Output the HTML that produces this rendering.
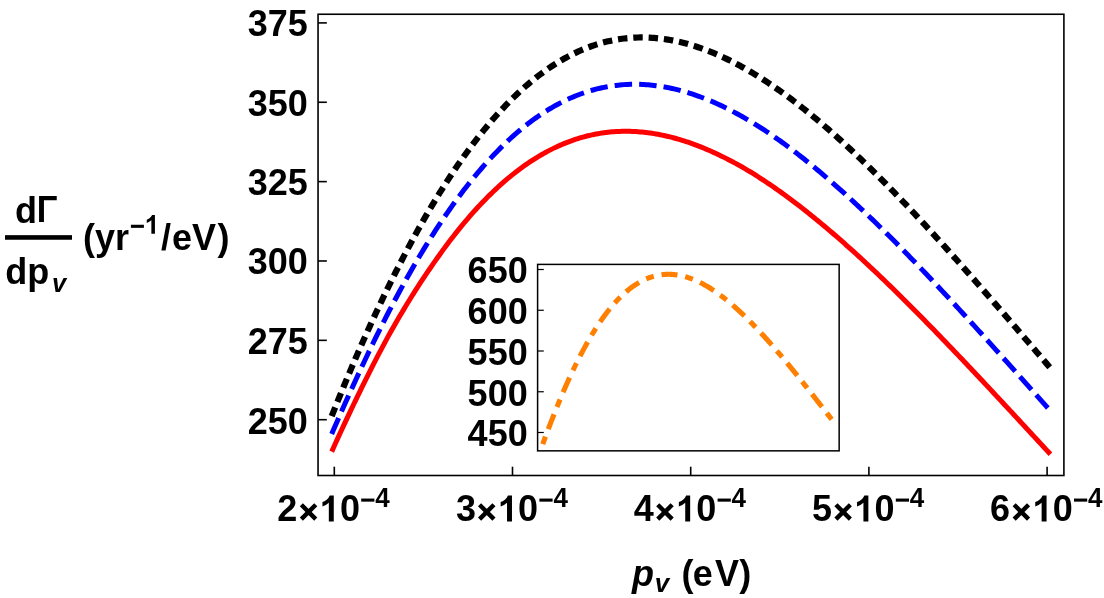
<!DOCTYPE html><html><head><meta charset="utf-8"><title>plot</title><style>
html,body{margin:0;padding:0;background:#fff}svg{display:block;will-change:transform}text{font-family:"Liberation Sans",sans-serif;font-weight:bold;fill:#000}
</style></head><body>
<svg width="1104" height="598" viewBox="0 0 1104 598">
<rect x="0" y="0" width="1104" height="598" fill="#fff"/>
<path d="M331.70,451.60 L333.70,447.17 L335.70,442.77 L337.71,438.40 L339.71,434.04 L341.71,429.72 L343.71,425.41 L345.71,421.13 L347.72,416.87 L349.72,412.64 L351.72,408.43 L353.72,404.24 L355.72,400.07 L357.73,395.92 L359.73,391.80 L361.73,387.70 L363.73,383.62 L365.73,379.57 L367.74,375.55 L369.74,371.56 L371.74,367.60 L373.74,363.68 L375.74,359.78 L377.74,355.92 L379.75,352.09 L381.75,348.31 L383.75,344.55 L385.75,340.84 L387.75,337.17 L389.76,333.55 L391.76,329.98 L393.76,326.44 L395.76,322.95 L397.76,319.50 L399.77,316.09 L401.77,312.71 L403.77,309.37 L405.77,306.06 L407.77,302.78 L409.78,299.52 L411.78,296.29 L413.78,293.09 L415.78,289.93 L417.78,286.80 L419.79,283.71 L421.79,280.65 L423.79,277.62 L425.79,274.63 L427.79,271.66 L429.80,268.72 L431.80,265.81 L433.80,262.93 L435.80,260.07 L437.80,257.24 L439.81,254.43 L441.81,251.65 L443.81,248.90 L445.81,246.19 L447.81,243.50 L449.82,240.86 L451.82,238.24 L453.82,235.66 L455.82,233.11 L457.82,230.60 L459.82,228.11 L461.83,225.67 L463.83,223.25 L465.83,220.87 L467.83,218.52 L469.83,216.21 L471.84,213.93 L473.84,211.68 L475.84,209.46 L477.84,207.28 L479.84,205.13 L481.85,203.02 L483.85,200.93 L485.85,198.88 L487.85,196.86 L489.85,194.88 L491.86,192.93 L493.86,191.01 L495.86,189.12 L497.86,187.26 L499.86,185.44 L501.87,183.65 L503.87,181.89 L505.87,180.17 L507.87,178.47 L509.87,176.81 L511.88,175.18 L513.88,173.58 L515.88,172.01 L517.88,170.48 L519.88,168.97 L521.89,167.50 L523.89,166.06 L525.89,164.65 L527.89,163.27 L529.89,161.92 L531.89,160.61 L533.90,159.32 L535.90,158.06 L537.90,156.84 L539.90,155.64 L541.90,154.48 L543.91,153.35 L545.91,152.24 L547.91,151.17 L549.91,150.12 L551.91,149.11 L553.92,148.12 L555.92,147.17 L557.92,146.24 L559.92,145.35 L561.92,144.48 L563.93,143.64 L565.93,142.83 L567.93,142.05 L569.93,141.30 L571.93,140.57 L573.94,139.88 L575.94,139.21 L577.94,138.57 L579.94,137.96 L581.94,137.37 L583.95,136.82 L585.95,136.29 L587.95,135.79 L589.95,135.31 L591.95,134.87 L593.96,134.45 L595.96,134.05 L597.96,133.69 L599.96,133.35 L601.96,133.03 L603.97,132.75 L605.97,132.49 L607.97,132.25 L609.97,132.04 L611.97,131.86 L613.97,131.70 L615.98,131.57 L617.98,131.46 L619.98,131.38 L621.98,131.32 L623.98,131.28 L625.99,131.28 L627.99,131.29 L629.99,131.33 L631.99,131.40 L633.99,131.48 L636.00,131.60 L638.00,131.73 L640.00,131.89 L642.00,132.07 L644.00,132.28 L646.01,132.51 L648.01,132.75 L650.01,133.03 L652.01,133.32 L654.01,133.63 L656.02,133.97 L658.02,134.33 L660.02,134.71 L662.02,135.11 L664.02,135.54 L666.03,135.98 L668.03,136.44 L670.03,136.93 L672.03,137.44 L674.03,137.96 L676.04,138.51 L678.04,139.08 L680.04,139.67 L682.04,140.28 L684.04,140.90 L686.05,141.55 L688.05,142.22 L690.05,142.91 L692.05,143.62 L694.05,144.34 L696.05,145.09 L698.06,145.85 L700.06,146.64 L702.06,147.44 L704.06,148.26 L706.06,149.09 L708.07,149.95 L710.07,150.82 L712.07,151.70 L714.07,152.61 L716.07,153.53 L718.08,154.47 L720.08,155.42 L722.08,156.39 L724.08,157.38 L726.08,158.39 L728.09,159.41 L730.09,160.45 L732.09,161.51 L734.09,162.58 L736.09,163.67 L738.10,164.77 L740.10,165.90 L742.10,167.04 L744.10,168.19 L746.10,169.36 L748.11,170.55 L750.11,171.76 L752.11,172.98 L754.11,174.22 L756.11,175.47 L758.12,176.74 L760.12,178.03 L762.12,179.33 L764.12,180.65 L766.12,181.98 L768.13,183.32 L770.13,184.68 L772.13,186.05 L774.13,187.43 L776.13,188.83 L778.13,190.24 L780.14,191.66 L782.14,193.10 L784.14,194.55 L786.14,196.01 L788.14,197.48 L790.15,198.97 L792.15,200.47 L794.15,201.98 L796.15,203.50 L798.15,205.03 L800.16,206.58 L802.16,208.14 L804.16,209.70 L806.16,211.28 L808.16,212.87 L810.17,214.47 L812.17,216.09 L814.17,217.71 L816.17,219.34 L818.17,220.98 L820.18,222.64 L822.18,224.30 L824.18,225.98 L826.18,227.66 L828.18,229.35 L830.19,231.06 L832.19,232.77 L834.19,234.49 L836.19,236.22 L838.19,237.96 L840.20,239.71 L842.20,241.47 L844.20,243.23 L846.20,245.01 L848.20,246.79 L850.21,248.59 L852.21,250.39 L854.21,252.20 L856.21,254.01 L858.21,255.84 L860.21,257.68 L862.22,259.52 L864.22,261.37 L866.22,263.23 L868.22,265.10 L870.22,266.98 L872.23,268.86 L874.23,270.75 L876.23,272.65 L878.23,274.55 L880.23,276.47 L882.24,278.38 L884.24,280.31 L886.24,282.24 L888.24,284.18 L890.24,286.13 L892.25,288.08 L894.25,290.04 L896.25,292.01 L898.25,293.98 L900.25,295.96 L902.26,297.94 L904.26,299.93 L906.26,301.92 L908.26,303.92 L910.26,305.93 L912.27,307.94 L914.27,309.95 L916.27,311.97 L918.27,314.00 L920.27,316.03 L922.28,318.06 L924.28,320.10 L926.28,322.15 L928.28,324.20 L930.28,326.25 L932.28,328.31 L934.29,330.37 L936.29,332.43 L938.29,334.50 L940.29,336.57 L942.29,338.65 L944.30,340.73 L946.30,342.81 L948.30,344.90 L950.30,346.99 L952.30,349.08 L954.31,351.18 L956.31,353.28 L958.31,355.38 L960.31,357.48 L962.31,359.59 L964.32,361.70 L966.32,363.81 L968.32,365.93 L970.32,368.05 L972.32,370.17 L974.33,372.30 L976.33,374.43 L978.33,376.56 L980.33,378.69 L982.33,380.83 L984.34,382.97 L986.34,385.11 L988.34,387.25 L990.34,389.39 L992.34,391.54 L994.35,393.68 L996.35,395.83 L998.35,397.98 L1000.35,400.14 L1002.35,402.29 L1004.36,404.44 L1006.36,406.60 L1008.36,408.76 L1010.36,410.91 L1012.36,413.07 L1014.36,415.23 L1016.37,417.39 L1018.37,419.55 L1020.37,421.72 L1022.37,423.88 L1024.37,426.04 L1026.38,428.21 L1028.38,430.38 L1030.38,432.54 L1032.38,434.71 L1034.38,436.87 L1036.39,439.04 L1038.39,441.21 L1040.39,443.38 L1042.39,445.54 L1044.39,447.71 L1046.40,449.88 L1048.40,452.05 L1050.40,454.22" fill="none" stroke="#ff0000" stroke-width="5.0"/>
<path d="M331.70,433.97 L333.70,429.33 L335.70,424.71 L337.71,420.13 L339.71,415.57 L341.71,411.04 L343.71,406.54 L345.71,402.06 L347.72,397.60 L349.72,393.17 L351.72,388.76 L353.72,384.37 L355.72,380.00 L357.73,375.64 L359.73,371.31 L361.73,367.00 L363.73,362.72 L365.73,358.46 L367.74,354.24 L369.74,350.05 L371.74,345.90 L373.74,341.77 L375.74,337.67 L377.74,333.61 L379.75,329.57 L381.75,325.57 L383.75,321.60 L385.75,317.67 L387.75,313.76 L389.76,309.89 L391.76,306.05 L393.76,302.24 L395.76,298.47 L397.76,294.73 L399.77,291.02 L401.77,287.34 L403.77,283.70 L405.77,280.09 L407.77,276.51 L409.78,272.97 L411.78,269.46 L413.78,265.99 L415.78,262.54 L417.78,259.13 L419.79,255.76 L421.79,252.42 L423.79,249.11 L425.79,245.84 L427.79,242.60 L429.80,239.39 L431.80,236.22 L433.80,233.08 L435.80,229.98 L437.80,226.91 L439.81,223.87 L441.81,220.87 L443.81,217.90 L445.81,214.97 L447.81,212.07 L449.82,209.20 L451.82,206.37 L453.82,203.57 L455.82,200.81 L457.82,198.08 L459.82,195.39 L461.83,192.73 L463.83,190.10 L465.83,187.51 L467.83,184.95 L469.83,182.42 L471.84,179.93 L473.84,177.48 L475.84,175.06 L477.84,172.67 L479.84,170.31 L481.85,167.99 L483.85,165.70 L485.85,163.45 L487.85,161.23 L489.85,159.04 L491.86,156.89 L493.86,154.77 L495.86,152.69 L497.86,150.64 L499.86,148.62 L501.87,146.63 L503.87,144.68 L505.87,142.76 L507.87,140.87 L509.87,139.02 L511.88,137.20 L513.88,135.41 L515.88,133.66 L517.88,131.94 L519.88,130.25 L521.89,128.59 L523.89,126.97 L525.89,125.37 L527.89,123.81 L529.89,122.29 L531.89,120.79 L533.90,119.33 L535.90,117.90 L537.90,116.50 L539.90,115.13 L541.90,113.79 L543.91,112.48 L545.91,111.21 L547.91,109.97 L549.91,108.76 L551.91,107.57 L553.92,106.42 L555.92,105.30 L557.92,104.22 L559.92,103.16 L561.92,102.13 L563.93,101.13 L565.93,100.16 L567.93,99.23 L569.93,98.32 L571.93,97.44 L573.94,96.59 L575.94,95.78 L577.94,94.99 L579.94,94.23 L581.94,93.50 L583.95,92.79 L585.95,92.12 L587.95,91.48 L589.95,90.86 L591.95,90.27 L593.96,89.72 L595.96,89.18 L597.96,88.68 L599.96,88.21 L601.96,87.76 L603.97,87.34 L605.97,86.95 L607.97,86.58 L609.97,86.25 L611.97,85.94 L613.97,85.65 L615.98,85.40 L617.98,85.17 L619.98,84.96 L621.98,84.78 L623.98,84.63 L625.99,84.51 L627.99,84.41 L629.99,84.34 L631.99,84.29 L633.99,84.26 L636.00,84.27 L638.00,84.29 L640.00,84.35 L642.00,84.42 L644.00,84.53 L646.01,84.65 L648.01,84.80 L650.01,84.98 L652.01,85.18 L654.01,85.40 L656.02,85.65 L658.02,85.92 L660.02,86.21 L662.02,86.53 L664.02,86.87 L666.03,87.23 L668.03,87.62 L670.03,88.02 L672.03,88.45 L674.03,88.91 L676.04,89.38 L678.04,89.88 L680.04,90.40 L682.04,90.94 L684.04,91.50 L686.05,92.08 L688.05,92.69 L690.05,93.31 L692.05,93.96 L694.05,94.63 L696.05,95.32 L698.06,96.02 L700.06,96.75 L702.06,97.50 L704.06,98.27 L706.06,99.06 L708.07,99.87 L710.07,100.70 L712.07,101.55 L714.07,102.41 L716.07,103.30 L718.08,104.21 L720.08,105.13 L722.08,106.08 L724.08,107.04 L726.08,108.02 L728.09,109.02 L730.09,110.04 L732.09,111.07 L734.09,112.12 L736.09,113.19 L738.10,114.28 L740.10,115.39 L742.10,116.51 L744.10,117.65 L746.10,118.81 L748.11,119.98 L750.11,121.17 L752.11,122.37 L754.11,123.60 L756.11,124.83 L758.12,126.09 L760.12,127.36 L762.12,128.64 L764.12,129.94 L766.12,131.26 L768.13,132.59 L770.13,133.94 L772.13,135.31 L774.13,136.68 L776.13,138.08 L778.13,139.49 L780.14,140.91 L782.14,142.35 L784.14,143.80 L786.14,145.27 L788.14,146.75 L790.15,148.25 L792.15,149.75 L794.15,151.28 L796.15,152.81 L798.15,154.36 L800.16,155.92 L802.16,157.49 L804.16,159.08 L806.16,160.68 L808.16,162.29 L810.17,163.91 L812.17,165.55 L814.17,167.19 L816.17,168.85 L818.17,170.52 L820.18,172.20 L822.18,173.90 L824.18,175.60 L826.18,177.31 L828.18,179.04 L830.19,180.77 L832.19,182.52 L834.19,184.27 L836.19,186.04 L838.19,187.81 L840.20,189.60 L842.20,191.39 L844.20,193.19 L846.20,195.01 L848.20,196.83 L850.21,198.66 L852.21,200.50 L854.21,202.35 L856.21,204.21 L858.21,206.08 L860.21,207.96 L862.22,209.84 L864.22,211.73 L866.22,213.64 L868.22,215.55 L870.22,217.47 L872.23,219.39 L874.23,221.33 L876.23,223.27 L878.23,225.22 L880.23,227.18 L882.24,229.14 L884.24,231.12 L886.24,233.10 L888.24,235.08 L890.24,237.08 L892.25,239.08 L894.25,241.09 L896.25,243.10 L898.25,245.12 L900.25,247.15 L902.26,249.19 L904.26,251.23 L906.26,253.28 L908.26,255.33 L910.26,257.39 L912.27,259.45 L914.27,261.53 L916.27,263.60 L918.27,265.69 L920.27,267.78 L922.28,269.87 L924.28,271.97 L926.28,274.08 L928.28,276.19 L930.28,278.30 L932.28,280.42 L934.29,282.55 L936.29,284.68 L938.29,286.81 L940.29,288.95 L942.29,291.10 L944.30,293.25 L946.30,295.40 L948.30,297.56 L950.30,299.72 L952.30,301.88 L954.31,304.05 L956.31,306.22 L958.31,308.40 L960.31,310.58 L962.31,312.76 L964.32,314.95 L966.32,317.14 L968.32,319.33 L970.32,321.53 L972.32,323.73 L974.33,325.93 L976.33,328.13 L978.33,330.34 L980.33,332.55 L982.33,334.76 L984.34,336.97 L986.34,339.19 L988.34,341.41 L990.34,343.63 L992.34,345.85 L994.35,348.07 L996.35,350.30 L998.35,352.52 L1000.35,354.75 L1002.35,356.98 L1004.36,359.21 L1006.36,361.45 L1008.36,363.68 L1010.36,365.92 L1012.36,368.15 L1014.36,370.39 L1016.37,372.63 L1018.37,374.87 L1020.37,377.12 L1022.37,379.36 L1024.37,381.60 L1026.38,383.85 L1028.38,386.09 L1030.38,388.34 L1032.38,390.58 L1034.38,392.83 L1036.39,395.07 L1038.39,397.32 L1040.39,399.57 L1042.39,401.82 L1044.39,404.07 L1046.40,406.31 L1048.40,408.56 L1050.40,410.81" fill="none" stroke="#0000ff" stroke-width="5.0" stroke-dasharray="17.5 7.049"/>
<path d="M331.70,416.07 L333.70,411.07 L335.70,406.09 L337.71,401.15 L339.71,396.23 L341.71,391.34 L343.71,386.48 L345.71,381.65 L347.72,376.85 L349.72,372.09 L351.72,367.36 L353.72,362.66 L355.72,358.00 L357.73,353.37 L359.73,348.78 L361.73,344.23 L363.73,339.72 L365.73,335.25 L367.74,330.81 L369.74,326.40 L371.74,322.02 L373.74,317.68 L375.74,313.36 L377.74,309.08 L379.75,304.83 L381.75,300.61 L383.75,296.42 L385.75,292.27 L387.75,288.15 L389.76,284.06 L391.76,280.00 L393.76,275.98 L395.76,271.99 L397.76,268.03 L399.77,264.10 L401.77,260.21 L403.77,256.36 L405.77,252.53 L407.77,248.74 L409.78,244.98 L411.78,241.26 L413.78,237.57 L415.78,233.92 L417.78,230.30 L419.79,226.71 L421.79,223.16 L423.79,219.64 L425.79,216.16 L427.79,212.71 L429.80,209.29 L431.80,205.91 L433.80,202.56 L435.80,199.25 L437.80,195.97 L439.81,192.73 L441.81,189.52 L443.81,186.35 L445.81,183.21 L447.81,180.10 L449.82,177.03 L451.82,174.00 L453.82,171.00 L455.82,168.03 L457.82,165.10 L459.82,162.21 L461.83,159.34 L463.83,156.52 L465.83,153.73 L467.83,150.97 L469.83,148.25 L471.84,145.56 L473.84,142.91 L475.84,140.29 L477.84,137.71 L479.84,135.16 L481.85,132.64 L483.85,130.17 L485.85,127.72 L487.85,125.31 L489.85,122.94 L491.86,120.60 L493.86,118.29 L495.86,116.02 L497.86,113.78 L499.86,111.58 L501.87,109.41 L503.87,107.27 L505.87,105.17 L507.87,103.11 L509.87,101.08 L511.88,99.08 L513.88,97.11 L515.88,95.18 L517.88,93.29 L519.88,91.42 L521.89,89.59 L523.89,87.80 L525.89,86.04 L527.89,84.31 L529.89,82.61 L531.89,80.95 L533.90,79.32 L535.90,77.73 L537.90,76.16 L539.90,74.63 L541.90,73.14 L543.91,71.67 L545.91,70.24 L547.91,68.84 L549.91,67.47 L551.91,66.14 L553.92,64.84 L555.92,63.57 L557.92,62.33 L559.92,61.12 L561.92,59.95 L563.93,58.81 L565.93,57.69 L567.93,56.61 L569.93,55.56 L571.93,54.54 L573.94,53.55 L575.94,52.60 L577.94,51.67 L579.94,50.77 L581.94,49.91 L583.95,49.07 L585.95,48.26 L587.95,47.49 L589.95,46.74 L591.95,46.03 L593.96,45.34 L595.96,44.68 L597.96,44.06 L599.96,43.46 L601.96,42.89 L603.97,42.35 L605.97,41.84 L607.97,41.36 L609.97,40.90 L611.97,40.48 L613.97,40.08 L615.98,39.71 L617.98,39.38 L619.98,39.06 L621.98,38.78 L623.98,38.53 L625.99,38.30 L627.99,38.10 L629.99,37.92 L631.99,37.78 L633.99,37.66 L636.00,37.57 L638.00,37.51 L640.00,37.47 L642.00,37.46 L644.00,37.47 L646.01,37.52 L648.01,37.58 L650.01,37.68 L652.01,37.79 L654.01,37.94 L656.02,38.11 L658.02,38.30 L660.02,38.52 L662.02,38.76 L664.02,39.03 L666.03,39.33 L668.03,39.64 L670.03,39.98 L672.03,40.35 L674.03,40.74 L676.04,41.15 L678.04,41.59 L680.04,42.04 L682.04,42.53 L684.04,43.03 L686.05,43.56 L688.05,44.11 L690.05,44.68 L692.05,45.28 L694.05,45.89 L696.05,46.53 L698.06,47.19 L700.06,47.88 L702.06,48.58 L704.06,49.31 L706.06,50.05 L708.07,50.82 L710.07,51.61 L712.07,52.42 L714.07,53.24 L716.07,54.09 L718.08,54.96 L720.08,55.85 L722.08,56.76 L724.08,57.69 L726.08,58.64 L728.09,59.61 L730.09,60.59 L732.09,61.60 L734.09,62.62 L736.09,63.67 L738.10,64.73 L740.10,65.81 L742.10,66.91 L744.10,68.02 L746.10,69.16 L748.11,70.31 L750.11,71.48 L752.11,72.67 L754.11,73.87 L756.11,75.09 L758.12,76.33 L760.12,77.58 L762.12,78.86 L764.12,80.15 L766.12,81.45 L768.13,82.77 L770.13,84.11 L772.13,85.46 L774.13,86.83 L776.13,88.21 L778.13,89.61 L780.14,91.03 L782.14,92.46 L784.14,93.91 L786.14,95.37 L788.14,96.84 L790.15,98.33 L792.15,99.83 L794.15,101.35 L796.15,102.89 L798.15,104.43 L800.16,105.99 L802.16,107.57 L804.16,109.15 L806.16,110.76 L808.16,112.37 L810.17,114.00 L812.17,115.64 L814.17,117.29 L816.17,118.96 L818.17,120.64 L820.18,122.33 L822.18,124.03 L824.18,125.75 L826.18,127.48 L828.18,129.21 L830.19,130.97 L832.19,132.73 L834.19,134.50 L836.19,136.29 L838.19,138.09 L840.20,139.90 L842.20,141.71 L844.20,143.54 L846.20,145.39 L848.20,147.24 L850.21,149.10 L852.21,150.97 L854.21,152.85 L856.21,154.75 L858.21,156.65 L860.21,158.56 L862.22,160.48 L864.22,162.41 L866.22,164.35 L868.22,166.30 L870.22,168.26 L872.23,170.23 L874.23,172.21 L876.23,174.20 L878.23,176.19 L880.23,178.20 L882.24,180.21 L884.24,182.23 L886.24,184.26 L888.24,186.30 L890.24,188.35 L892.25,190.40 L894.25,192.46 L896.25,194.53 L898.25,196.61 L900.25,198.69 L902.26,200.78 L904.26,202.88 L906.26,204.99 L908.26,207.10 L910.26,209.22 L912.27,211.34 L914.27,213.47 L916.27,215.61 L918.27,217.76 L920.27,219.91 L922.28,222.07 L924.28,224.23 L926.28,226.40 L928.28,228.57 L930.28,230.75 L932.28,232.94 L934.29,235.13 L936.29,237.33 L938.29,239.53 L940.29,241.74 L942.29,243.95 L944.30,246.16 L946.30,248.39 L948.30,250.61 L950.30,252.84 L952.30,255.08 L954.31,257.32 L956.31,259.56 L958.31,261.81 L960.31,264.06 L962.31,266.31 L964.32,268.57 L966.32,270.84 L968.32,273.10 L970.32,275.37 L972.32,277.65 L974.33,279.92 L976.33,282.20 L978.33,284.48 L980.33,286.77 L982.33,289.06 L984.34,291.35 L986.34,293.65 L988.34,295.94 L990.34,298.24 L992.34,300.54 L994.35,302.85 L996.35,305.15 L998.35,307.46 L1000.35,309.77 L1002.35,312.08 L1004.36,314.40 L1006.36,316.72 L1008.36,319.04 L1010.36,321.36 L1012.36,323.68 L1014.36,326.00 L1016.37,328.33 L1018.37,330.66 L1020.37,332.99 L1022.37,335.32 L1024.37,337.65 L1026.38,339.98 L1028.38,342.32 L1030.38,344.65 L1032.38,346.99 L1034.38,349.33 L1036.39,351.67 L1038.39,354.01 L1040.39,356.35 L1042.39,358.69 L1044.39,361.03 L1046.40,363.37 L1048.40,365.72 L1050.40,368.06" fill="none" stroke="#000" stroke-width="6.2" stroke-dasharray="9.45 5.884"/>
<rect x="318.05" y="14.25" width="745.85" height="461.25" fill="none" stroke="#000" stroke-width="1.6"/>
<line x1="318.05" y1="22.90" x2="326.85" y2="22.90" stroke="#000" stroke-width="1.6"/>
<text x="307.9" y="36" font-size="36" text-anchor="end">375</text>
<line x1="318.05" y1="102.26" x2="326.85" y2="102.26" stroke="#000" stroke-width="1.6"/>
<text x="307.9" y="116" font-size="36" text-anchor="end">350</text>
<line x1="318.05" y1="181.62" x2="326.85" y2="181.62" stroke="#000" stroke-width="1.6"/>
<text x="307.9" y="195" font-size="36" text-anchor="end">325</text>
<line x1="318.05" y1="260.98" x2="326.85" y2="260.98" stroke="#000" stroke-width="1.6"/>
<text x="307.9" y="274" font-size="36" text-anchor="end">300</text>
<line x1="318.05" y1="340.34" x2="326.85" y2="340.34" stroke="#000" stroke-width="1.6"/>
<text x="307.9" y="354" font-size="36" text-anchor="end">275</text>
<line x1="318.05" y1="419.70" x2="326.85" y2="419.70" stroke="#000" stroke-width="1.6"/>
<text x="307.9" y="434" font-size="36" text-anchor="end">250</text>
<line x1="334.30" y1="475.5" x2="334.30" y2="466.7" stroke="#000" stroke-width="1.6"/>
<text x="277.30" y="521" font-size="36">2</text>
<path d="M301.35,504.75 L315.75,519.15 M301.35,519.15 L315.75,504.75" stroke="#000" stroke-width="4.4" fill="none"/>
<path d="M333.77,521.40 L328.83,521.40 L328.83,502.78 Q326.12,505.32 322.45,506.53 L322.45,502.05 Q324.38,501.41 326.65,499.65 Q328.92,497.88 329.76,495.52 L333.77,495.52 Z" fill="#000"/>
<text x="339.90" y="521" font-size="36">0</text>
<rect x="361.20" y="498.55" width="13.20" height="3.1" fill="#000"/>
<text transform="translate(375.20,507.1) scale(1,1.05)" x="0" y="0" font-size="26">4</text>
<line x1="512.50" y1="475.5" x2="512.50" y2="466.7" stroke="#000" stroke-width="1.6"/>
<text x="455.90" y="521" font-size="36">3</text>
<path d="M479.55,504.75 L493.95,519.15 M479.55,519.15 L493.95,504.75" stroke="#000" stroke-width="4.4" fill="none"/>
<path d="M511.97,521.40 L507.03,521.40 L507.03,502.78 Q504.32,505.32 500.65,506.53 L500.65,502.05 Q502.58,501.41 504.85,499.65 Q507.12,497.88 507.96,495.52 L511.97,495.52 Z" fill="#000"/>
<text x="518.10" y="521" font-size="36">0</text>
<rect x="539.40" y="498.55" width="13.20" height="3.1" fill="#000"/>
<text transform="translate(553.40,507.1) scale(1,1.05)" x="0" y="0" font-size="26">4</text>
<line x1="690.70" y1="475.5" x2="690.70" y2="466.7" stroke="#000" stroke-width="1.6"/>
<text x="633.70" y="521" font-size="36">4</text>
<path d="M657.75,504.75 L672.15,519.15 M657.75,519.15 L672.15,504.75" stroke="#000" stroke-width="4.4" fill="none"/>
<path d="M690.17,521.40 L685.23,521.40 L685.23,502.78 Q682.52,505.32 678.85,506.53 L678.85,502.05 Q680.78,501.41 683.05,499.65 Q685.32,497.88 686.16,495.52 L690.17,495.52 Z" fill="#000"/>
<text x="696.30" y="521" font-size="36">0</text>
<rect x="717.60" y="498.55" width="13.20" height="3.1" fill="#000"/>
<text transform="translate(731.60,507.1) scale(1,1.05)" x="0" y="0" font-size="26">4</text>
<line x1="868.90" y1="475.5" x2="868.90" y2="466.7" stroke="#000" stroke-width="1.6"/>
<text x="811.90" y="521" font-size="36">5</text>
<path d="M835.95,504.75 L850.35,519.15 M835.95,519.15 L850.35,504.75" stroke="#000" stroke-width="4.4" fill="none"/>
<path d="M868.37,521.40 L863.43,521.40 L863.43,502.78 Q860.72,505.32 857.05,506.53 L857.05,502.05 Q858.98,501.41 861.25,499.65 Q863.52,497.88 864.36,495.52 L868.37,495.52 Z" fill="#000"/>
<text x="874.50" y="521" font-size="36">0</text>
<rect x="895.80" y="498.55" width="13.20" height="3.1" fill="#000"/>
<text transform="translate(909.80,507.1) scale(1,1.05)" x="0" y="0" font-size="26">4</text>
<line x1="1047.10" y1="475.5" x2="1047.10" y2="466.7" stroke="#000" stroke-width="1.6"/>
<text x="990.10" y="521" font-size="36">6</text>
<path d="M1014.15,504.75 L1028.55,519.15 M1014.15,519.15 L1028.55,504.75" stroke="#000" stroke-width="4.4" fill="none"/>
<path d="M1046.57,521.40 L1041.63,521.40 L1041.63,502.78 Q1038.92,505.32 1035.25,506.53 L1035.25,502.05 Q1037.18,501.41 1039.45,499.65 Q1041.72,497.88 1042.56,495.52 L1046.57,495.52 Z" fill="#000"/>
<text x="1052.70" y="521" font-size="36">0</text>
<rect x="1074.00" y="498.55" width="13.20" height="3.1" fill="#000"/>
<text transform="translate(1088.00,507.1) scale(1,1.05)" x="0" y="0" font-size="26">4</text>
<rect x="537.6" y="264.4" width="301.55" height="186.45" fill="#fff" stroke="#000" stroke-width="1.5"/>
<line x1="537.6" y1="269.50" x2="543.8000000000001" y2="269.50" stroke="#000" stroke-width="1.2"/>
<text x="527.7" y="283" font-size="36" text-anchor="end">650</text>
<line x1="537.6" y1="310.25" x2="543.8000000000001" y2="310.25" stroke="#000" stroke-width="1.2"/>
<text x="527.7" y="324" font-size="36" text-anchor="end">600</text>
<line x1="537.6" y1="351.00" x2="543.8000000000001" y2="351.00" stroke="#000" stroke-width="1.2"/>
<text x="527.7" y="365" font-size="36" text-anchor="end">550</text>
<line x1="537.6" y1="391.75" x2="543.8000000000001" y2="391.75" stroke="#000" stroke-width="1.2"/>
<text x="527.7" y="406" font-size="36" text-anchor="end">500</text>
<line x1="537.6" y1="432.50" x2="543.8000000000001" y2="432.50" stroke="#000" stroke-width="1.2"/>
<text x="527.7" y="446" font-size="36" text-anchor="end">450</text>
<path d="M542.70,444.12 L543.92,440.80 L545.14,437.50 L546.35,434.23 L547.57,430.99 L548.79,427.78 L550.01,424.60 L551.22,421.45 L552.44,418.32 L553.66,415.23 L554.88,412.17 L556.09,409.13 L557.31,406.13 L558.53,403.16 L559.75,400.22 L560.96,397.31 L562.18,394.44 L563.40,391.60 L564.62,388.79 L565.83,386.01 L567.05,383.26 L568.27,380.55 L569.49,377.87 L570.70,375.23 L571.92,372.62 L573.14,370.04 L574.36,367.50 L575.57,364.99 L576.79,362.52 L578.01,360.08 L579.23,357.67 L580.44,355.30 L581.66,352.97 L582.88,350.67 L584.10,348.40 L585.32,346.17 L586.53,343.98 L587.75,341.82 L588.97,339.70 L590.19,337.61 L591.40,335.55 L592.62,333.53 L593.84,331.55 L595.06,329.60 L596.27,327.69 L597.49,325.81 L598.71,323.97 L599.93,322.17 L601.14,320.40 L602.36,318.66 L603.58,316.96 L604.80,315.29 L606.01,313.66 L607.23,312.07 L608.45,310.51 L609.67,308.99 L610.88,307.50 L612.10,306.04 L613.32,304.62 L614.54,303.23 L615.75,301.88 L616.97,300.57 L618.19,299.28 L619.41,298.03 L620.62,296.82 L621.84,295.64 L623.06,294.49 L624.28,293.38 L625.49,292.30 L626.71,291.25 L627.93,290.24 L629.15,289.26 L630.37,288.32 L631.58,287.40 L632.80,286.52 L634.02,285.67 L635.24,284.86 L636.45,284.07 L637.67,283.32 L638.89,282.60 L640.11,281.91 L641.32,281.25 L642.54,280.62 L643.76,280.03 L644.98,279.46 L646.19,278.93 L647.41,278.43 L648.63,277.95 L649.85,277.51 L651.06,277.09 L652.28,276.71 L653.50,276.36 L654.72,276.03 L655.93,275.73 L657.15,275.46 L658.37,275.22 L659.59,275.01 L660.80,274.83 L662.02,274.67 L663.24,274.55 L664.46,274.45 L665.67,274.37 L666.89,274.33 L668.11,274.31 L669.33,274.31 L670.55,274.34 L671.76,274.40 L672.98,274.49 L674.20,274.60 L675.42,274.73 L676.63,274.89 L677.85,275.08 L679.07,275.29 L680.29,275.52 L681.50,275.78 L682.72,276.06 L683.94,276.36 L685.16,276.69 L686.37,277.04 L687.59,277.42 L688.81,277.81 L690.03,278.23 L691.24,278.67 L692.46,279.14 L693.68,279.62 L694.90,280.13 L696.11,280.65 L697.33,281.20 L698.55,281.77 L699.77,282.36 L700.98,282.97 L702.20,283.60 L703.42,284.24 L704.64,284.91 L705.85,285.60 L707.07,286.31 L708.29,287.03 L709.51,287.77 L710.73,288.53 L711.94,289.31 L713.16,290.11 L714.38,290.93 L715.60,291.76 L716.81,292.61 L718.03,293.47 L719.25,294.35 L720.47,295.25 L721.68,296.17 L722.90,297.10 L724.12,298.04 L725.34,299.00 L726.55,299.98 L727.77,300.97 L728.99,301.98 L730.21,303.00 L731.42,304.03 L732.64,305.08 L733.86,306.14 L735.08,307.22 L736.29,308.31 L737.51,309.41 L738.73,310.53 L739.95,311.66 L741.16,312.80 L742.38,313.95 L743.60,315.12 L744.82,316.30 L746.03,317.49 L747.25,318.69 L748.47,319.90 L749.69,321.12 L750.91,322.35 L752.12,323.60 L753.34,324.85 L754.56,326.12 L755.78,327.39 L756.99,328.68 L758.21,329.97 L759.43,331.28 L760.65,332.59 L761.86,333.91 L763.08,335.24 L764.30,336.58 L765.52,337.93 L766.73,339.29 L767.95,340.65 L769.17,342.03 L770.39,343.41 L771.60,344.80 L772.82,346.19 L774.04,347.60 L775.26,349.01 L776.47,350.42 L777.69,351.85 L778.91,353.28 L780.13,354.71 L781.34,356.16 L782.56,357.61 L783.78,359.06 L785.00,360.52 L786.21,361.99 L787.43,363.46 L788.65,364.94 L789.87,366.42 L791.08,367.91 L792.30,369.40 L793.52,370.89 L794.74,372.40 L795.96,373.90 L797.17,375.41 L798.39,376.92 L799.61,378.44 L800.83,379.96 L802.04,381.49 L803.26,383.02 L804.48,384.55 L805.70,386.08 L806.91,387.62 L808.13,389.16 L809.35,390.70 L810.57,392.25 L811.78,393.80 L813.00,395.35 L814.22,396.90 L815.44,398.46 L816.65,400.02 L817.87,401.58 L819.09,403.14 L820.31,404.70 L821.52,406.27 L822.74,407.83 L823.96,409.40 L825.18,410.97 L826.39,412.54 L827.61,414.11 L828.83,415.68 L830.05,417.25 L831.26,418.83 L832.48,420.40 L833.70,421.97" fill="none" stroke="#ff8000" stroke-width="5.1" stroke-dasharray="8 7.9 16.04 7.9"/>
<text x="15" y="223" font-size="36">d</text>
<text transform="translate(36.8,222.1) scale(0.95,1.05)" x="0" y="0" font-size="36">Γ</text>
<rect x="5.0" y="235.15" width="67.0" height="4.6" fill="#000"/>
<text x="5.2" y="284" font-size="36">dp</text>
<text x="52" y="292" font-size="25.5" font-style="italic">v</text>
<text x="83" y="250" font-size="36">(yr</text>
<rect x="130.90" y="224.75" width="13.00" height="3.1" fill="#000"/>
<path d="M154.93,233.70 L151.37,233.70 L151.37,220.26 Q149.41,222.08 146.76,222.96 L146.76,219.72 Q148.15,219.27 149.79,217.99 Q151.43,216.71 152.04,215.01 L154.93,215.01 Z" fill="#000"/>
<text x="161.1" y="250" font-size="36">/</text>
<text x="171.95" y="250" font-size="36">eV</text>
<text x="217.6" y="250" font-size="36">)</text>
<text x="632.1" y="586" font-size="36" font-style="italic">p</text>
<text x="654.7" y="592" font-size="26" font-style="italic">v</text>
<text x="681.4" y="586" font-size="36">(</text>
<text x="692.8" y="586" font-size="36">e</text>
<text x="714.9" y="586" font-size="36">V</text>
<text x="739.2" y="586" font-size="36">)</text>
</svg></body></html>
